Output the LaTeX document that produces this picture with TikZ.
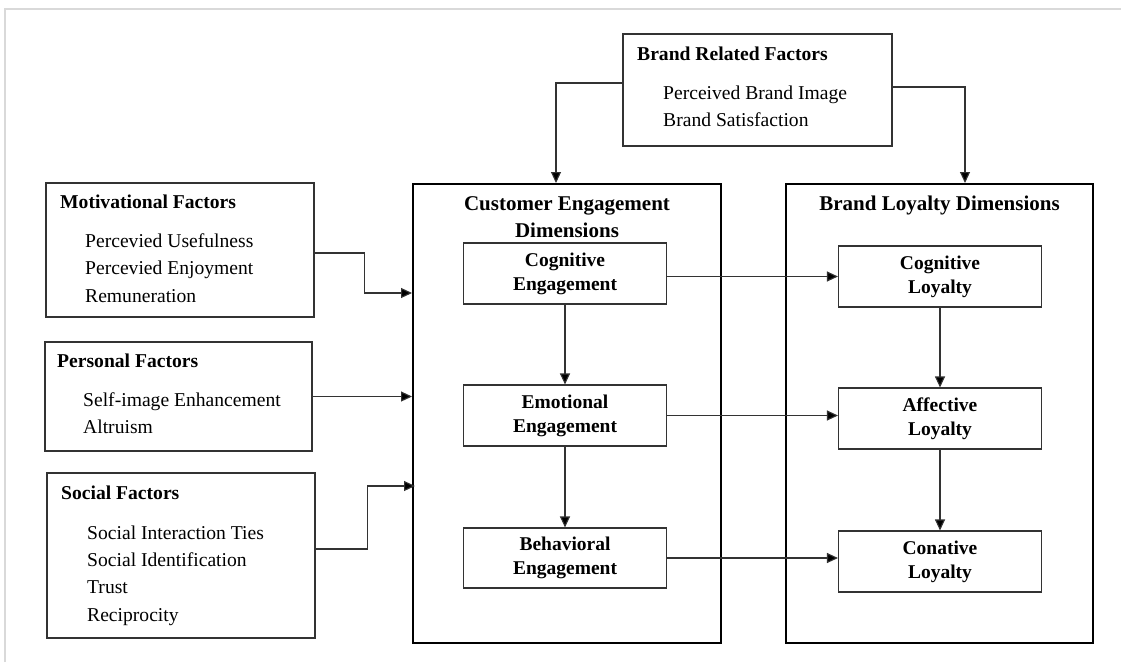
\documentclass[tikz,border=0pt]{standalone}
\usepackage{fontspec}
\setmainfont{Liberation Serif}
\usetikzlibrary{arrows.meta}
\begin{document}
\begin{tikzpicture}[x=1pt,y=-1pt,
  smallbox/.style={draw=black!80, line width=1.1pt, inner sep=0pt, fill=white},
  bigbox/.style={draw=black, line width=2pt, inner sep=0pt},
  dimbox/.style={smallbox, align=center, font=\fontsize{19.5}{24}\selectfont\bfseries},
  txt/.style={anchor=base west, inner sep=0pt, font=\fontsize{19.6}{24}\selectfont},
  ttl/.style={anchor=base west, inner sep=0pt, font=\fontsize{19.6}{24}\selectfont\bfseries},
  bigttl/.style={inner sep=0pt, align=center, font=\fontsize{21}{27}\selectfont\bfseries},
  conn/.style={draw=black!80, line width=1.1pt, -{Triangle[length=11pt,width=10pt,fill=black]}}
]
\useasboundingbox (0,0) rectangle (1121,662);
% light frame
\draw[black!15, line width=2pt] (5,662) -- (5,9) -- (1121,9);

% big dimension boxes
\node[bigbox, minimum width=308, minimum height=459] (ce) at (567,413.5) {};
\node[bigbox, minimum width=307, minimum height=459] (bl) at (939.5,413.5) {};
\node[bigttl] (ceT) at (567,217) {Customer Engagement\\Dimensions};
\node[bigttl, anchor=base] (blT) at (939.5,210) {Brand Loyalty Dimensions};

% inner boxes
\node[dimbox, minimum width=203, minimum height=61] (coge) at (565,273.5) {Cognitive\\Engagement};
\node[dimbox, minimum width=203, minimum height=61] (emoe) at (565,415.5) {Emotional\\Engagement};
\node[dimbox, minimum width=203, minimum height=60] (behe) at (565,558) {Behavioral\\Engagement};
\node[dimbox, minimum width=203, minimum height=61] (cogl) at (940,276.5) {Cognitive\\Loyalty};
\node[dimbox, minimum width=203, minimum height=61] (affl) at (940,418.5) {Affective\\Loyalty};
\node[dimbox, minimum width=203, minimum height=61] (conl) at (940,561.5) {Conative\\Loyalty};

% factor boxes
\node[smallbox, minimum width=269, minimum height=112] (brand) at (757.5,90) {};
\node[smallbox, minimum width=268, minimum height=134] (mot) at (180,250) {};
\node[smallbox, minimum width=267, minimum height=109] (pers) at (178.5,396.5) {};
\node[smallbox, minimum width=268, minimum height=165] (soc) at (181,555.5) {};

% factor texts
\node[ttl] (brandT) at (637,60) {Brand Related Factors};
\node[txt] (brand1) at (663,99) {Perceived Brand Image};
\node[txt] (brand2) at (663,126) {Brand Satisfaction};

\node[ttl] (motT) at (60,208) {Motivational Factors};
\node[txt] (mot1) at (85,247) {Percevied Usefulness};
\node[txt] (mot2) at (85,274.5) {Percevied Enjoyment};
\node[txt] (mot3) at (85,302) {Remuneration};

\node[ttl] (persT) at (57,367) {Personal Factors};
\node[txt] (pers1) at (83,406) {Self-image Enhancement};
\node[txt] (pers2) at (83,433) {Altruism};

\node[ttl] (socT) at (61,499) {Social Factors};
\node[txt] (soc1) at (87,539) {Social Interaction Ties};
\node[txt] (soc2) at (87,566) {Social Identification};
\node[txt] (soc3) at (87,593) {Trust};
\node[txt] (soc4) at (87,621) {Reciprocity};

% connectors
\draw[conn] ([yshift=7]brand.west) -| ([xshift=-11]ce.north);
\draw[conn] ([yshift=3]brand.east) -| ([xshift=25.5]bl.north);
\draw[conn] ([yshift=-3]mot.east) -- ++(50,0) |- ([yshift=120.5]ce.west);
\draw[conn] (pers.east) -- (pers.east -| ce.west);
\draw[conn] ([yshift=6.5]soc.east) -- ++(52,0) |- ([yshift=-72.5,xshift=3]ce.west);

\draw[conn] (cogl.west -| coge.east) -- (cogl.west);
\draw[conn] (emoe.east) -- (emoe.east -| affl.west);
\draw[conn] (behe.east) -- (behe.east -| conl.west);

\draw[conn] (coge) -- (emoe);
\draw[conn] (emoe) -- (behe);
\draw[conn] (cogl) -- (affl);
\draw[conn] (affl) -- (conl);
\end{tikzpicture}
\end{document}
